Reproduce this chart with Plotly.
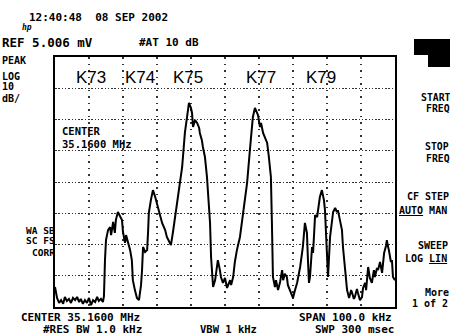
import plotly.graph_objects as go

# Spectrum analyzer trace: frequency offset from centre (kHz) and level (dB rel. ref)
freq_khz = [
    -50.0, -49.4, -48.8, -48.2, -47.6, -47.1, -46.5, -45.9, -45.3, -44.7, -44.1, -43.5,
    -42.9, -42.4, -41.8, -41.2, -40.6, -40.0, -39.4, -38.8, -38.2, -37.6, -37.1, -36.5,
    -35.9, -35.6, -35.3, -35.0, -34.4, -33.8, -33.5, -32.9, -32.4, -32.1, -31.5, -30.9,
    -30.3, -30.0, -29.4, -29.1, -28.5, -27.9, -27.4, -27.1, -26.5, -25.9, -25.3, -24.7,
    -24.4, -24.1, -23.5, -22.9, -22.6, -22.4, -21.8, -21.2, -20.6, -19.7, -19.1, -18.5,
    -17.6, -17.1, -16.5, -15.9, -15.3, -14.7, -13.8, -12.6, -11.8, -10.9, -10.6, -10.0,
    -9.7, -9.4, -8.8, -8.2, -7.6, -7.4, -6.8, -6.5, -5.9, -5.3, -5.0, -4.7,
    -4.4, -4.1, -3.8, -3.5, -2.9, -2.4, -2.1, -1.5, -1.2, -0.6, 0.0, 0.6,
    1.2, 1.5, 1.8, 2.4, 2.9, 3.5, 4.4, 5.3, 6.5, 7.4, 8.2, 8.8,
    9.4, 9.7, 10.3, 10.6, 11.2, 11.8, 12.4, 12.9, 13.5, 13.8, 14.1, 14.7,
    15.0, 15.6, 16.2, 16.8, 17.1, 17.6, 18.2, 18.5, 19.1, 19.7, 20.0, 20.6,
    21.2, 22.1, 22.6, 22.9, 23.5, 23.8, 24.1, 24.4, 24.7, 25.0, 25.6, 25.9,
    26.5, 27.1, 27.6, 27.9, 28.5, 29.1, 29.4, 30.0, 30.3, 30.9, 31.5, 31.8,
    32.4, 32.9, 33.2, 33.8, 34.4, 34.7, 35.3, 35.9, 36.5, 37.1, 37.4, 37.9,
    38.2, 38.8, 39.1, 39.7, 40.3, 40.6, 41.2, 41.5, 42.1, 42.6, 43.2, 43.8,
    44.1, 44.7, 45.0, 45.6, 46.2, 46.8, 47.4, 47.6, 47.9, 48.2, 48.8, 49.1,
    49.4, 50.0,
]
level_db = [
    -73.6, -77.1, -78.7, -77.8, -79.0, -76.8, -78.1, -77.4, -78.7, -77.1, -77.8, -76.8,
    -78.4, -77.4, -79.0, -77.8, -78.7, -77.1, -79.4, -77.8, -78.4, -76.8, -78.1, -77.4,
    -78.4, -76.5, -65.0, -58.6, -55.4, -54.4, -57.0, -52.8, -56.3, -52.2, -49.6, -50.9,
    -52.2, -56.0, -59.5, -57.0, -59.2, -61.8, -65.0, -71.4, -74.6, -77.1, -77.8, -73.0,
    -68.2, -60.8, -62.4, -61.8, -55.4, -49.9, -45.8, -42.6, -44.5, -48.0, -50.6, -53.1,
    -55.4, -57.6, -58.9, -60.2, -56.0, -51.2, -43.5, -35.2, -24.3, -15.7, -14.7, -16.3,
    -17.9, -22.4, -20.2, -21.1, -22.7, -24.3, -26.6, -28.8, -32.0, -38.4, -42.6, -47.4,
    -53.1, -64.0, -70.4, -73.6, -71.4, -65.9, -65.0, -68.2, -70.4, -72.3, -70.7, -73.9,
    -72.0, -71.4, -73.0, -70.4, -65.6, -61.8, -57.6, -49.9, -40.3, -28.8, -19.2, -16.3,
    -17.6, -18.6, -22.4, -21.1, -24.3, -25.9, -27.5, -32.0, -38.4, -53.1, -70.4, -73.6,
    -71.4, -74.6, -72.0, -68.2, -71.4, -69.4, -70.4, -73.0, -74.6, -75.8, -77.1, -74.6,
    -72.3, -67.2, -63.4, -60.8, -53.1, -54.7, -56.3, -65.0, -72.3, -70.4, -60.8, -62.7,
    -50.6, -51.2, -45.8, -44.8, -42.6, -45.8, -49.0, -60.8, -70.4, -57.6, -51.2, -49.6,
    -48.3, -49.6, -49.0, -52.8, -55.4, -60.8, -68.2, -74.6, -77.1, -74.6, -75.5, -77.4,
    -76.8, -74.2, -75.5, -77.8, -76.8, -73.9, -72.3, -74.6, -67.2, -70.7, -72.3, -68.2,
    -70.4, -67.5, -68.2, -65.6, -69.1, -62.7, -60.2, -58.6, -60.5, -61.8, -65.6, -65.0,
    -70.4, -71.4,
]

channel_labels = ["K73", "K74", "K75", "K77", "K79"]
channel_freqs = [-39.4, -25.0, -10.9, 10.6, 28.2]
channel_level = -6.4

W, H = 450, 335
L, R, T, B = 55, 55, 57, 28
PW, PH = W - L - R, H - T - B


def px(x, y):
    return (x - L) / PW, (H - B - y) / PH


MONO = "DejaVu Sans Mono"

fig = go.Figure()
fig.add_trace(go.Scatter(
    x=freq_khz, y=level_db, mode="lines",
    line=dict(color="black", width=2), hoverinfo="skip", showlegend=False,
))

for name, f in zip(channel_labels, channel_freqs):
    fig.add_annotation(x=f, y=channel_level, xref="x", yref="y", text=name,
                       showarrow=False, font=dict(family="Liberation Sans", size=17, color="black"),
                       xanchor="center", yanchor="middle")

texts = [
    # text, x, y, size, anchor
    ("12:40:48  08 SEP 2002", 28, 17, 11, "left"),
    ("<i>hp</i>", 21, 28, 8, "left"),
    ("REF 5.006 mV", 1, 43, 12.5, "left"),
    ("#AT 10 dB", 138, 43, 11, "left"),
    ("PEAK", 1, 60, 10, "left"),
    ("LOG", 1, 77, 10, "left"),
    ("10", 1, 86, 10, "left"),
    ("dB/", 1, 98, 10, "left"),
    ("CENTER", 61, 131, 10.5, "left"),
    ("35.1600 MHz", 61, 144, 10.5, "left"),
    ("WA SB", 56, 230, 9.5, "right"),
    ("SC FS", 56, 240.5, 9.5, "right"),
    ("CORR", 56, 252, 9.5, "right"),
    ("CENTER 35.1600 MHz", 20, 317, 11, "left"),
    ("#RES BW 1.0 kHz", 42, 329, 11, "left"),
    ("VBW 1 kHz", 199, 329, 10.5, "left"),
    ("SPAN 100.0 kHz", 298, 317, 11, "left"),
    ("SWP 300 msec", 314, 329, 11, "left"),
    ("START", 420, 97, 9.8, "left"),
    ("FREQ", 425, 108, 9.8, "left"),
    ("STOP", 424, 146, 9.8, "left"),
    ("FREQ", 425, 158, 9.8, "left"),
    ("CF STEP", 406, 196, 10, "left"),
    ("<u>AUTO</u> MAN", 398, 210, 10, "left"),
    ("SWEEP", 417, 245, 10, "left"),
    ("LOG <u>LIN</u>", 404, 258, 10, "left"),
    ("More", 424, 292, 10, "left"),
    ("1 of 2", 411, 303, 10, "left"),
]
for t, x, y, s, a in texts:
    xp, yp = px(x, y)
    fig.add_annotation(x=xp, y=yp, xref="paper", yref="paper", text=t, showarrow=False,
                       xanchor=a, yanchor="middle", borderpad=0,
                       font=dict(family=MONO, size=s, color="black", weight="bold"))

# black softkey block at top right
pts = [(414, 39), (452, 39), (452, 67), (428, 67), (428, 55), (414, 55)]
path = "M " + " L ".join(f"{px(a, b)[0]:.4f},{px(a, b)[1]:.4f}" for a, b in pts) + " Z"
fig.add_shape(type="path", path=path, xref="paper", yref="paper",
              fillcolor="black", line=dict(color="black", width=0))

fig.update_xaxes(range=[-50, 50], dtick=10, tick0=-50, showticklabels=False, ticks="",
                 showgrid=True, gridcolor="#333", gridwidth=1.5, griddash="1.5px,5px",
                 showline=True, linecolor="black", linewidth=2, mirror=True, zeroline=False)
fig.update_yaxes(range=[-80, 0], dtick=10, tick0=0, showticklabels=False, ticks="",
                 showgrid=True, gridcolor="#333", gridwidth=1.2, griddash="1.5px,1.8px",
                 showline=True, linecolor="black", linewidth=2, mirror=True, zeroline=False)

fig.update_layout(width=W, height=H, margin=dict(l=L, r=R, t=T, b=B),
                  paper_bgcolor="white", plot_bgcolor="white", showlegend=False)

fig.write_html("out.html", config={"displayModeBar": False},
               post_script="document.body.style.margin='0';document.body.style.overflow='hidden';")
